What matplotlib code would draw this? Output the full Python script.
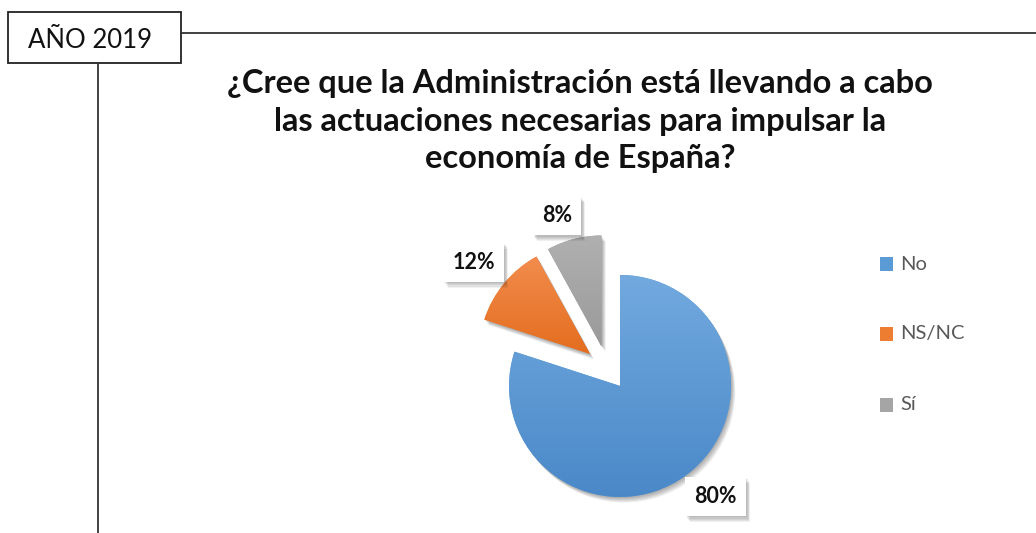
import matplotlib
matplotlib.use("Agg")
import numpy as np
import matplotlib.pyplot as plt
import matplotlib.patheffects as pe
from matplotlib.patches import Rectangle
from matplotlib.lines import Line2D
from matplotlib.colors import LinearSegmentedColormap

categories = ["No", "NS/NC", "Sí"]
values = [80, 12, 8]
label_texts = ["80%", "12%", "8%"]
colors = ["#5B9BD5", "#ED7D31", "#A5A5A5"]
grad_top = ["#72AADF", "#F28C4E", "#B0B0B0"]
grad_bottom = ["#4A88C8", "#E46D1E", "#9A9A9A"]
explode = [0.2, 0.2, 0.2]
title = "¿Cree que la Administración está llevando a cabo\nlas actuaciones necesarias para impulsar la\neconomía de España?"
year_label = "AÑO 2019"

W, H = 1036, 533
fig = plt.figure(figsize=(W / 100, H / 100), dpi=100)
fig.patch.set_facecolor("white")

FONT = ["Lato", "DejaVu Sans"]


def fx(x):
    return x / W


def fy(y):
    return 1 - y / H


def soft_shadow(dx, dy, alpha, n=4):
    effects = []
    for i in range(n, 0, -1):
        effects.append(pe.SimplePatchShadow(offset=(dx * i / n, -dy * i / n),
                                            shadow_rgbFace="#000000", alpha=alpha))
    effects.append(pe.Normal())
    return effects


# frame decorations
fig.add_artist(Rectangle((fx(8), fy(63)), fx(181) - fx(8), fy(12) - fy(63),
                         transform=fig.transFigure, fill=False, edgecolor="#222222", lw=1.3))
fig.add_artist(Line2D([fx(181), 1.0], [fy(33), fy(33)], transform=fig.transFigure,
                      color="#333333", lw=1.3))
fig.add_artist(Line2D([fx(98), fx(98)], [fy(63), 0.0], transform=fig.transFigure,
                      color="#333333", lw=1.3))
fig.text(fx(90), fy(40), year_label, ha="center", va="center", fontsize=18.5,
         family=FONT, color="#111111")

fig.text(fx(580), fy(121), title, ha="center", va="center", fontsize=23.5,
         fontweight="bold", family=FONT, color="#111111", linespacing=1.36)

# pie
cx, cy, R = 607, 368, 111
ax = fig.add_axes([fx(cx - 2 * R), fy(cy + 2 * R), 4 * R / W, 4 * R / H])
wedges, _ = ax.pie(values, colors=colors, explode=explode, startangle=90,
                   counterclock=False, radius=1.0, wedgeprops=dict(linewidth=0))

for w, ct, cb in zip(wedges, grad_top, grad_bottom):
    w.set_path_effects(soft_shadow(3, 4, 0.07, n=5))
    verts = w.get_path().vertices
    x0, y0 = verts.min(axis=0)
    x1, y1 = verts.max(axis=0)
    cmap = LinearSegmentedColormap.from_list("g", [cb, ct])
    grad = np.linspace(0, 1, 256).reshape(-1, 1)
    img = ax.imshow(grad, extent=(x0, x1, y0, y1), origin="lower", cmap=cmap,
                    aspect="auto", interpolation="bilinear", zorder=w.get_zorder() + 0.1)
    img.set_clip_path(w)

ax.set_xlim(-2, 2)
ax.set_ylim(-2, 2)
ax.set_aspect("equal")
ax.axis("off")

label_pos = [(0.98, -1.16), (-1.20, 0.95), (-0.45, 1.37)]
for (x, y), t in zip(label_pos, label_texts):
    txt = ax.text(x, y, t, ha="center", va="center", fontsize=15.5, fontweight="bold",
                  family=FONT, color="#111111", zorder=5,
                  bbox=dict(boxstyle="square,pad=0.42", facecolor="white", edgecolor="none"))
    txt.get_bbox_patch().set_path_effects(soft_shadow(3, 4, 0.06, n=5))

# legend
leg_y = [264, 334, 405]
for yy, c, lab in zip(leg_y, colors, categories):
    fig.add_artist(Rectangle((fx(880), fy(yy + 7)), 13 / W, 14 / H, transform=fig.transFigure,
                             facecolor=c, edgecolor="none"))
    fig.text(fx(900), fy(yy), lab, ha="left", va="center", fontsize=14.5, family=FONT,
             color="#595959")

fig.savefig("out.png", dpi=100, facecolor="white")
